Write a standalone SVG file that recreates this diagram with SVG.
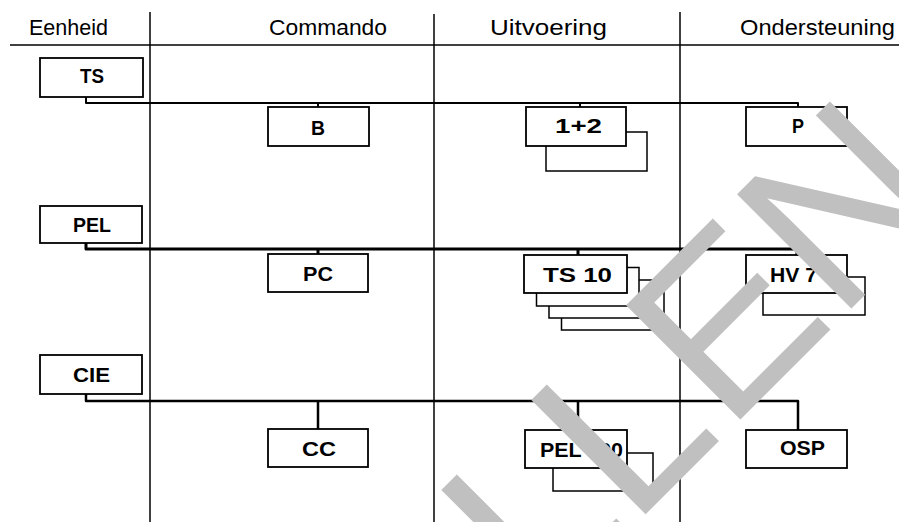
<svg xmlns="http://www.w3.org/2000/svg" width="899" height="522" viewBox="0 0 899 522">
<style>
.hdr{font-family:"Liberation Sans",Arial,sans-serif;font-size:22px;fill:#000}
.lbl{font-family:"Liberation Sans",Arial,sans-serif;font-size:21px;font-weight:bold;fill:#000}
.box{fill:#fff;stroke:#000;stroke-width:1.8}
.sh{fill:#fff;stroke:#000;stroke-width:1.5}
.grid{stroke:#000;stroke-width:1.5;fill:none}
.con{stroke:#000;fill:none;stroke-linejoin:round}
.wm{font-family:"Liberation Sans",Arial,sans-serif;font-size:235px;fill:#c0c0c0}
</style>
<rect width="899" height="522" fill="#fff"/>
<g id="grid">
<line class="grid" x1="10" y1="45" x2="899" y2="45"/>
<line class="grid" x1="150" y1="12" x2="150" y2="522"/>
<line class="grid" x1="434" y1="14" x2="434" y2="522"/>
<line class="grid" x1="680" y1="12" x2="680" y2="522"/>
</g>
<g id="headers">
<text class="hdr" x="29" y="35" textLength="79" lengthAdjust="spacingAndGlyphs">Eenheid</text>
<text class="hdr" x="269" y="35" textLength="118" lengthAdjust="spacingAndGlyphs">Commando</text>
<text class="hdr" x="490" y="35" textLength="117" lengthAdjust="spacingAndGlyphs">Uitvoering</text>
<text class="hdr" x="740" y="35" textLength="155" lengthAdjust="spacingAndGlyphs">Ondersteuning</text>
</g>
<g id="connectors">
<path class="con" stroke-width="2" d="M86 97 V103 H798 V107 M318 103 V107 M580 103 V107"/>
<path class="con" stroke-width="3" d="M86 243 V249 H797 V255 M318 249 V254 M578 249 V255"/>
<path class="con" stroke-width="2.5" d="M86 394 V401 H798 V430 M318 401 V429 M578 401 V430"/>
</g>
<g id="TS"><rect class="box" x="40" y="58" width="103" height="39"/><text class="lbl" x="80" y="83" textLength="24" lengthAdjust="spacingAndGlyphs">TS</text></g>
<g id="PEL"><rect class="box" x="40" y="206" width="102" height="37"/><text class="lbl" x="73" y="232" textLength="38" lengthAdjust="spacingAndGlyphs">PEL</text></g>
<g id="CIE"><rect class="box" x="40" y="355" width="102" height="39"/><text class="lbl" x="73" y="382" textLength="37" lengthAdjust="spacingAndGlyphs">CIE</text></g>
<g id="B"><rect class="box" x="268" y="107" width="101" height="39"/><text class="lbl" x="311" y="135" textLength="14" lengthAdjust="spacingAndGlyphs">B</text></g>
<g id="PC"><rect class="box" x="268" y="254" width="100" height="38"/><text class="lbl" x="303" y="281" textLength="30" lengthAdjust="spacingAndGlyphs">PC</text></g>
<g id="CC"><rect class="box" x="268" y="429" width="100" height="38"/><text class="lbl" x="302" y="456" textLength="34" lengthAdjust="spacingAndGlyphs">CC</text></g>
<g id="n12"><rect class="sh" x="546" y="132" width="101" height="39"/><rect class="box" x="526" y="107" width="100" height="39"/><text class="lbl" x="555" y="133" textLength="47" lengthAdjust="spacingAndGlyphs">1+2</text></g>
<g id="TS10"><rect class="sh" x="561.5" y="292.5" width="102.5" height="37.5"/><rect class="sh" x="549" y="280" width="103" height="38"/><rect class="sh" x="536.5" y="267.5" width="102.5" height="38.5"/><rect class="box" x="524" y="255" width="103" height="38"/><text class="lbl" x="543" y="282" textLength="69" lengthAdjust="spacingAndGlyphs">TS 10</text></g>
<g id="P"><rect class="box" x="746" y="107" width="101" height="39"/><text class="lbl" x="792" y="133" textLength="12" lengthAdjust="spacingAndGlyphs">P</text></g>
<g id="HV7"><rect class="sh" x="763" y="277" width="102" height="38"/><rect class="box" x="746" y="255" width="101" height="38"/><text class="lbl" x="770" y="282" textLength="47" lengthAdjust="spacingAndGlyphs">HV 7</text></g>
<g id="PEL100"><rect class="sh" x="553" y="453" width="100" height="38"/><rect class="box" x="525" y="430" width="102" height="38"/><text class="lbl" x="540" y="457" textLength="83" lengthAdjust="spacingAndGlyphs">PEL 100</text></g>
<g id="OSP"><rect class="box" x="746" y="430" width="101" height="38"/><text class="lbl" x="780" y="455" textLength="45" lengthAdjust="spacingAndGlyphs">OSP</text></g>
<g id="watermark"><text class="wm" transform="translate(542 618) rotate(-45)" dx="0 -3.5 3.5">LLEN</text></g>
</svg>
